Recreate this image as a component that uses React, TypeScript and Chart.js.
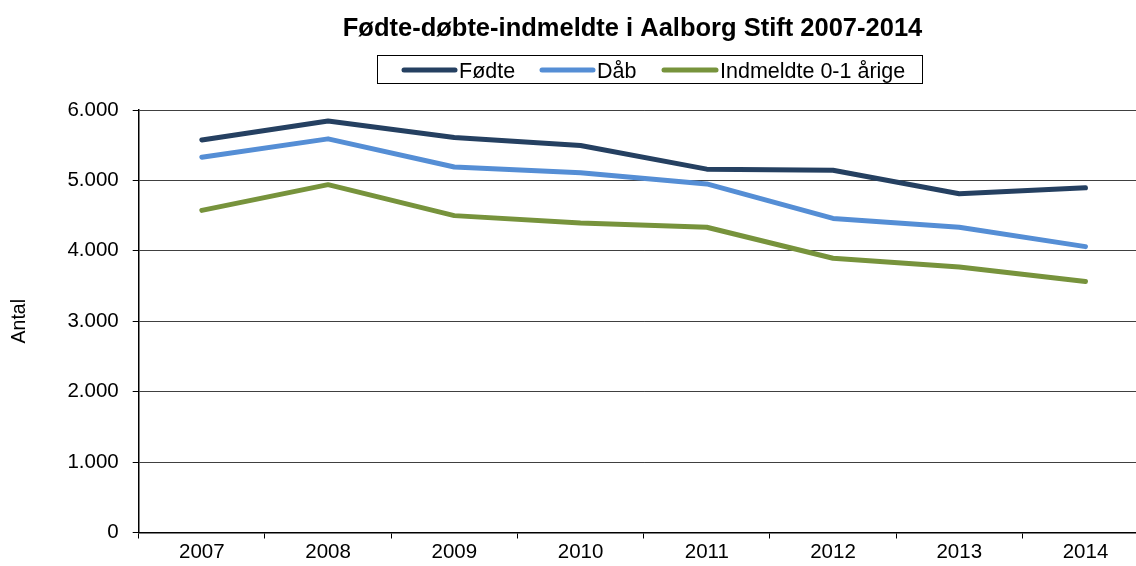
import React, { useEffect, useRef } from "react";
import { Chart, registerables } from "chart.js";

Chart.register(...registerables);

const years = ["2007", "2008", "2009", "2010", "2011", "2012", "2013", "2014"];
const fodte = [5575, 5845, 5610, 5495, 5160, 5145, 4810, 4895];
const daab = [5330, 5590, 5190, 5110, 4950, 4460, 4335, 4060];
const indmeldte = [4575, 4940, 4500, 4395, 4335, 3895, 3770, 3565];
const yTickValues = [0, 1000, 2000, 3000, 4000, 5000, 6000];

const seriesNames = ["Fødte", "Dåb", "Indmeldte 0-1 årige"];
const seriesColors = ["#254061", "#558ED5", "#77933C"];
const titleText = "Fødte-døbte-indmeldte i Aalborg Stift 2007-2014";
const yAxisTitle = "Antal";

const FONT = "Arial, 'Liberation Sans', sans-serif";

const fmt = (v: number) =>
  v === 0 ? "0" : Math.floor(v / 1000) + "." + String(v % 1000).padStart(3, "0");

const headerPlugin = {
  id: "header",
  afterDraw(chart: any) {
    const ctx = chart.ctx;
    ctx.save();
    // title
    ctx.fillStyle = "#000";
    ctx.font = `bold 25.5px ${FONT}`;
    ctx.textAlign = "center";
    ctx.textBaseline = "alphabetic";
    ctx.fillText(titleText, 632.5, 36);
    // legend box
    ctx.strokeStyle = "#000";
    ctx.lineWidth = 1;
    ctx.strokeRect(377.5, 55.5, 545, 28);
    const lineStarts = [402, 540, 662];
    const lineEnds = [457, 595, 718];
    ctx.font = `21.5px ${FONT}`;
    ctx.textAlign = "left";
    for (let i = 0; i < seriesNames.length; i++) {
      ctx.beginPath();
      ctx.strokeStyle = seriesColors[i];
      ctx.lineWidth = 5;
      ctx.lineCap = "round";
      ctx.moveTo(lineStarts[i] + 2, 70);
      ctx.lineTo(lineEnds[i] - 2, 70);
      ctx.stroke();
      ctx.fillStyle = "#000";
      ctx.fillText(seriesNames[i], lineEnds[i] + 2, 77.5);
    }
    ctx.restore();
  },
};

export default function App() {
  const ref = useRef<HTMLCanvasElement | null>(null);
  useEffect(() => {
    if (!ref.current) return;
    const datasets = [fodte, daab, indmeldte].map((d, i) => ({
      label: seriesNames[i],
      data: d,
      borderColor: seriesColors[i],
      backgroundColor: seriesColors[i],
      borderWidth: 5,
      pointRadius: 0,
      pointHoverRadius: 0,
      tension: 0,
      borderCapStyle: "round" as const,
      borderJoinStyle: "round" as const,
      fill: false,
    }));
    const chart = new Chart(ref.current, {
      type: "line",
      data: { labels: years, datasets },
      plugins: [headerPlugin],
      options: {
        animation: false,
        responsive: true,
        maintainAspectRatio: false,
        layout: { padding: { top: 110, right: 11.4, left: 0, bottom: 0 } },
        plugins: {
          legend: { display: false },
          title: { display: false },
          tooltip: { enabled: false },
        },
        scales: {
          x: {
            type: "category",
            offset: true,
            grid: {
              display: true,
              drawOnChartArea: false,
              drawTicks: true,
              tickLength: 6,
              color: "#000",
              offset: true,
            },
            border: { display: true, color: "#000", width: 1.5 },
            ticks: {
              color: "#000",
              font: { family: FONT, size: 20.5 },
              padding: 2,
              maxRotation: 0,
              autoSkip: false,
            },
            afterFit(scale: any) {
              scale.height = 33.5;
            },
          },
          y: {
            min: 0,
            max: 6000,
            afterBuildTicks(scale: any) {
              scale.ticks = yTickValues.map((v) => ({ value: v }));
            },
            grid: {
              color: "#404040",
              lineWidth: 1,
              drawTicks: true,
              tickLength: 6,
              tickColor: "#000",
            },
            border: { display: true, color: "#000", width: 1.5 },
            ticks: {
              color: "#000",
              font: { family: FONT, size: 20.5 },
              padding: 14,
              callback: (v: any) => fmt(Number(v)),
            },
            title: {
              display: true,
              text: yAxisTitle,
              color: "#000",
              font: { family: FONT, size: 19.5 },
              padding: { top: 8, bottom: 0 },
            },
            afterFit(scale: any) {
              scale.width = 138.7;
            },
          },
        },
      },
    });
    return () => chart.destroy();
  }, []);

  return (
    <div
      style={{
        position: "fixed",
        left: 0,
        top: 0,
        width: 1136,
        height: 566,
        overflow: "hidden",
        background: "#fff",
      }}
    >
      <div style={{ position: "relative", width: 1160, height: 566 }}>
        <canvas ref={ref} />
      </div>
    </div>
  );
}
